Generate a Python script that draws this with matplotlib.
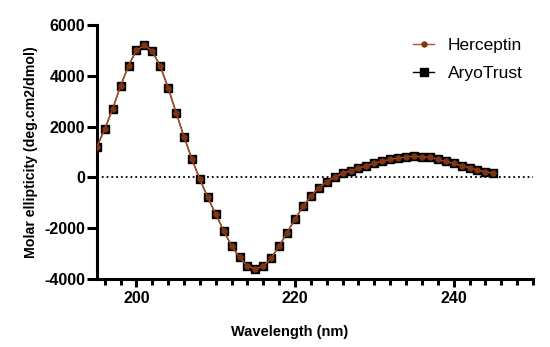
import numpy as np
import matplotlib
matplotlib.use("Agg")
import matplotlib.pyplot as plt
from matplotlib.ticker import MultipleLocator

plt.rcParams['font.family'] = ['Liberation Sans', 'DejaVu Sans']
plt.rcParams['axes.unicode_minus'] = False

# Longitud de onda (nm) y elipticidad molar
wavelength = list(range(195, 246))
herceptin = [1200, 1900, 2700, 3600, 4400, 5000, 5200, 4970, 4380, 3530,
             2550, 1600, 710, -80, -790, -1450, -2100, -2700, -3150, -3490,
             -3600, -3500, -3170, -2700, -2170, -1640, -1140, -740, -410, -170,
             20, 160, 260, 355, 455, 550, 640, 710, 760, 810,
             830, 815, 790, 710, 630, 550, 460, 380, 280, 220, 160]
aryotrust = list(herceptin)

fig = plt.figure(figsize=(5.5, 3.47), dpi=100)
ax = fig.add_axes([0.176, 0.196, 0.793, 0.732])

ax.axhline(0, color='black', lw=1.3, ls=':', zorder=1)

ax.plot(wavelength, aryotrust, color='black', lw=1.0, marker='s',
        markersize=5.2, markerfacecolor='black', markeredgecolor='black',
        label='AryoTrust', zorder=2)
ax.plot(wavelength, herceptin, color='#b3532c', lw=1.0, marker='o',
        markersize=3.6, markerfacecolor='#7e3514', markeredgecolor='#7e3514',
        label='Herceptin', zorder=3)

ax.set_xlim(195, 250)
ax.set_ylim(-4000, 6000)
ax.set_xticks([200, 220, 240])
ax.xaxis.set_minor_locator(MultipleLocator(2))
ax.set_yticks([-4000, -2000, 0, 2000, 4000, 6000])

for s in ['top', 'right']:
    ax.spines[s].set_visible(False)
for s in ['left', 'bottom']:
    ax.spines[s].set_linewidth(2.2)

ax.tick_params(axis='y', which='major', length=7, width=2.2, pad=1.5, labelsize=11.5)
ax.tick_params(axis='x', which='major', length=6, width=2.2, pad=3, labelsize=11.5)
ax.tick_params(axis='x', which='minor', length=4, width=2.2)
for lab in ax.get_xticklabels() + ax.get_yticklabels():
    lab.set_fontweight('bold')

ax.set_xlabel('Wavelength (nm)', fontsize=10.5, fontweight='bold')
ax.set_ylabel('Molar ellipticity (deg.cm2/dmol)', fontsize=10.2, fontweight='bold')
ax.xaxis.set_label_coords(0.443, -0.209)
ax.yaxis.set_label_coords(-0.151, 0.5)
ax.xaxis.label.set_va('center')
ax.yaxis.label.set_va('center')

handles, labels = ax.get_legend_handles_labels()
ax.legend(handles[::-1], labels[::-1], loc='upper left',
          bbox_to_anchor=(0.69, 1.01), frameon=False, fontsize=12.5,
          handlelength=1.2, handletextpad=0.8, labelspacing=0.75)

fig.savefig('out.png', dpi=100)
